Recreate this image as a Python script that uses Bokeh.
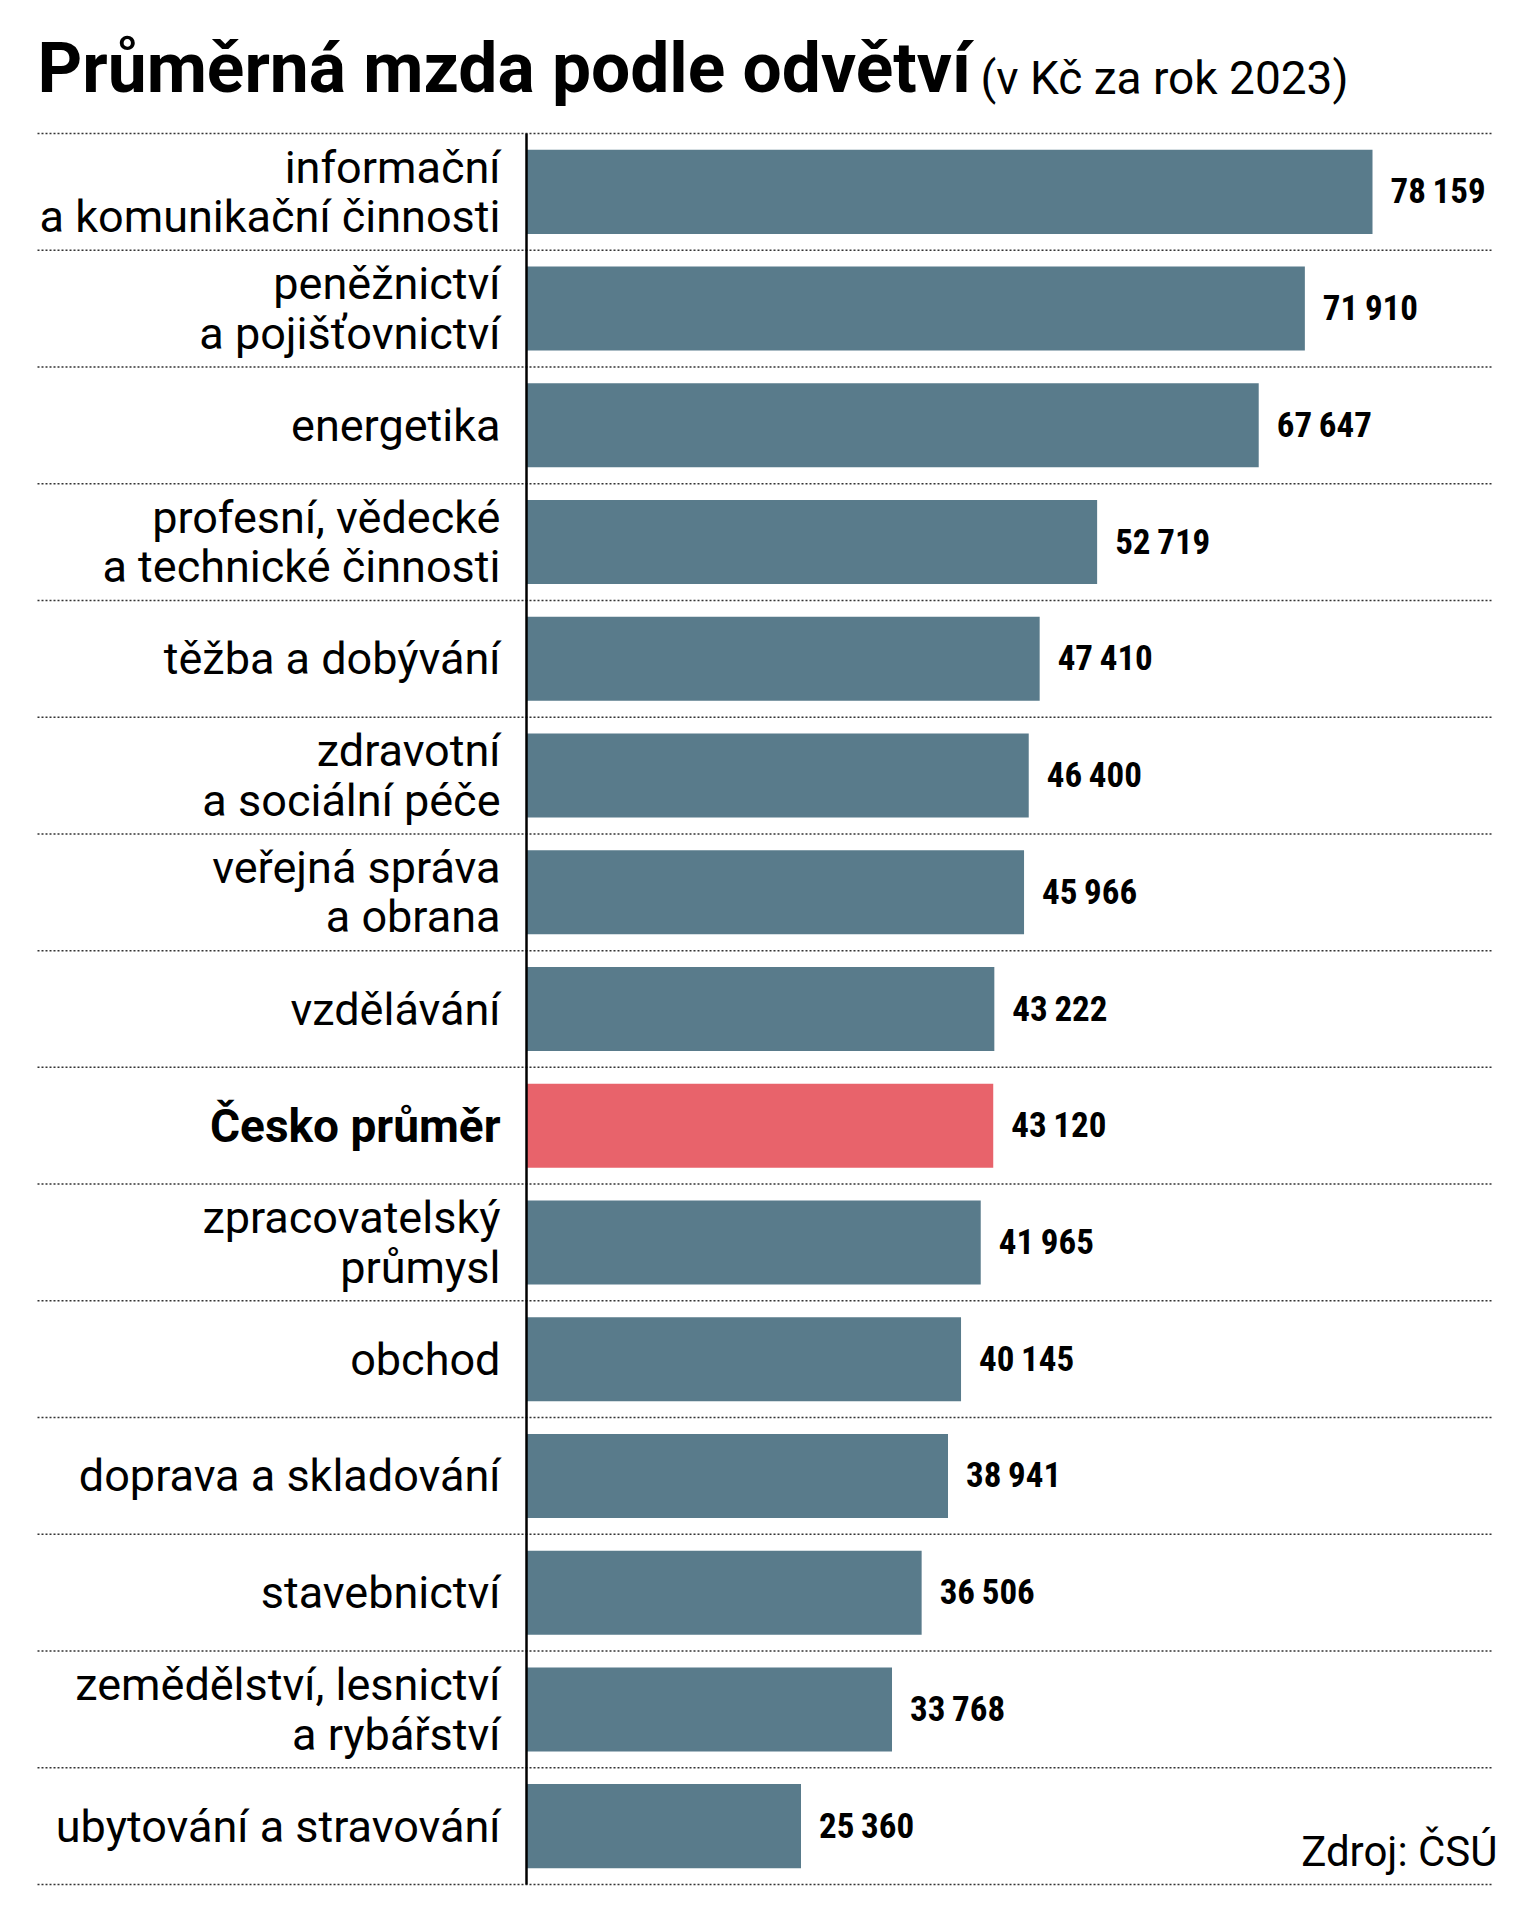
from bokeh.plotting import figure
from bokeh.embed import file_html
from bokeh.resources import INLINE
from bokeh.core.properties import value
from bokeh.models import Range1d, ColumnDataSource

# ---- data ----
categories = [
    "informační\na komunikační činnosti",
    "peněžnictví\na pojišťovnictví",
    "energetika",
    "profesní, vědecké\na technické činnosti",
    "těžba a dobývání",
    "zdravotní\na sociální péče",
    "veřejná správa\na obrana",
    "vzdělávání",
    "Česko průměr",
    "zpracovatelský\nprůmysl",
    "obchod",
    "doprava a skladování",
    "stavebnictví",
    "zemědělství, lesnictví\na rybářství",
    "ubytování a stravování",
]
wages = [78159, 71910, 67647, 52719, 47410, 46400, 45966, 43222,
         43120, 41965, 40145, 38941, 36506, 33768, 25360]
highlight = "Česko průměr"
title_text = "Průměrná mzda podle odvětví"
subtitle_text = "(v Kč za rok 2023)"
source_text = "Zdroj: ČSÚ"

# ---- layout helpers (pixel geometry -> data coords) ----
W, H = 1536, 1920
AX0 = 526.0          # pixel of value 0
K = (1372.0 - AX0) / 78159.0   # pixels per Kč
TOP = 133.0          # first separator
ROW = (1884.0 - TOP) / len(categories)

def xd(px):
    return (px - AX0) / K

def yd(py):
    return (py - TOP) / ROW - 0.5

BAR = "#597b8b"
RED = "#e8636b"

n = len(categories)
idx = list(range(n))
colors = [RED if c == highlight else BAR for c in categories]
styles = ["bold" if c == highlight else "normal" for c in categories]
sizes = ["46px" if c == highlight else "45px" for c in categories]
labels = ["{:,}".format(v).replace(",", "\u2009") for v in wages]

src = ColumnDataSource(dict(y=idx, cat=categories, v=wages, color=colors,
                            style=styles, size=sizes, lab=labels))

p = figure(width=W, height=H, output_backend="svg", toolbar_location=None,
           x_range=Range1d(xd(0), xd(W)), y_range=Range1d(yd(H), yd(0)),
           x_axis_location=None, y_axis_location=None, min_border=0,
           outline_line_color=None, background_fill_color="white",
           border_fill_color="white")
p.grid.visible = False

# separators
p.segment(x0=[xd(37)] * (n + 1), x1=[xd(1493)] * (n + 1),
          y0=[i - 0.5 for i in range(n + 1)], y1=[i - 0.5 for i in range(n + 1)],
          line_color="#333333", line_width=1.5, line_dash="2 2")

# bars
p.hbar(y="y", left=0, right="v", height=0.72, fill_color="color",
       line_color=None, source=src)

# axis line
p.segment(x0=[0], x1=[0], y0=[-0.5], y1=[n - 0.5], line_color="black",
          line_width=2.5)

# category labels
p.text(x=0, y="y", text="cat", x_offset=-26, text_align="right",
       text_baseline="middle", text_font=value("Roboto"), text_font_size="size",
       text_font_style="style", text_line_height=0.93, text_color="black",
       source=src)

# value labels
p.text(x="v", y="y", text="lab", x_offset=18, text_align="left",
       text_baseline="middle", text_font=value("Roboto Condensed"),
       text_font_size="35px", text_font_style="bold", text_color="black",
       source=src)

# title / subtitle / source
p.text(x=[xd(37)], y=[yd(68)], text=[title_text], text_align="left",
       text_baseline="alphabetic", text_font=value("Roboto"),
       text_font_size="69.5px", text_font_style="bold", text_color="black")
p.text(x=[xd(980)], y=[yd(77)], text=[subtitle_text], text_align="left",
       text_baseline="alphabetic", text_font=value("Roboto"),
       text_font_size="46px", text_color="black")
p.text(x=[xd(1497)], y=[yd(1851)], text=[source_text], text_align="right",
       text_baseline="alphabetic", text_font=value("Roboto"),
       text_font_size="42px", text_color="black")

open("out.html", "w").write(file_html(p, INLINE))
